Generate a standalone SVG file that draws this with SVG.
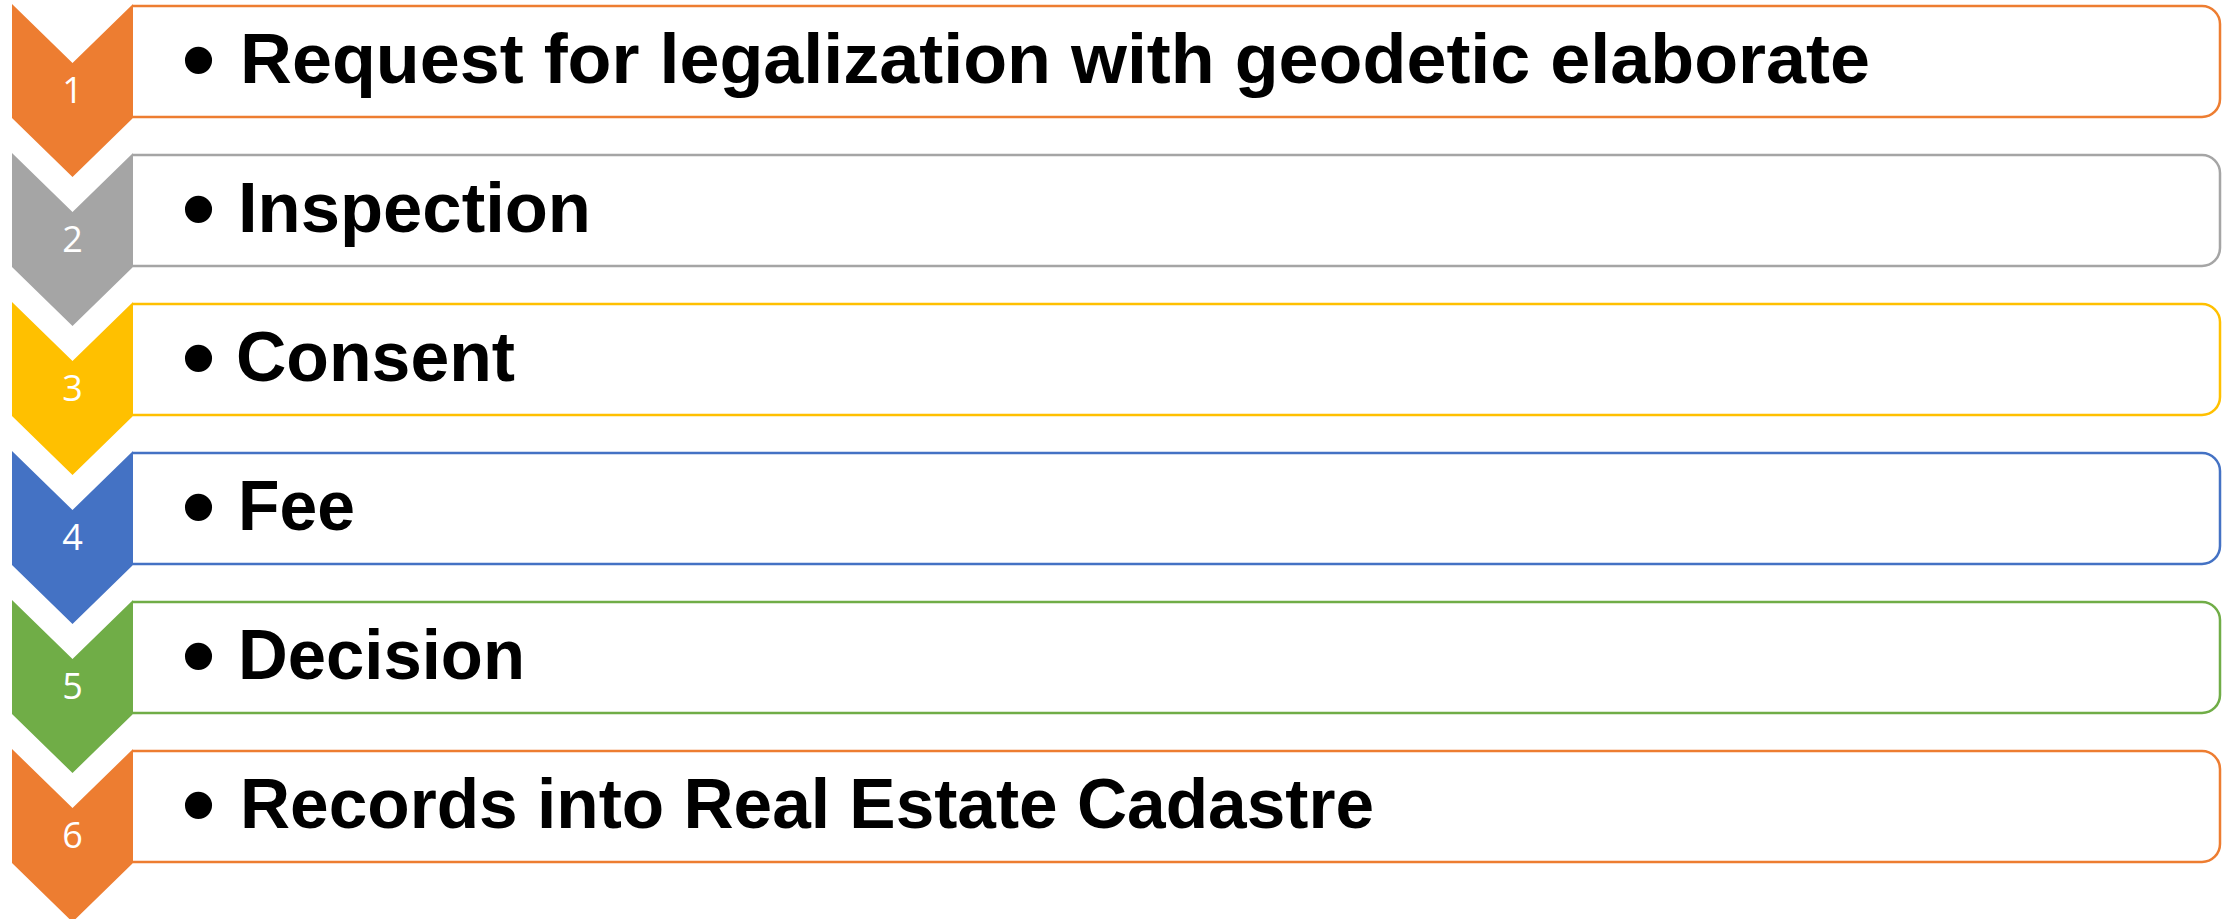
<svg xmlns="http://www.w3.org/2000/svg" width="2226" height="919" viewBox="0 0 2226 919">
<style>
.box{fill:#fff;stroke-width:2.5}
.num{font-family:"Open Sans","Liberation Sans",sans-serif;font-size:36px;fill:#fff;text-anchor:middle}
.lbl{font-family:"Liberation Sans",Arial,sans-serif;font-weight:bold;font-size:71px;fill:#000}
.bul{font-family:"Liberation Sans",Arial,sans-serif;font-size:100px;fill:#000;text-anchor:middle}
</style>
<defs>
<path id="chev" d="M12,0 L72.5,59 L133,0 L133,114 L72.5,173 L12,114 Z"/>
<path id="frame" d="M133,2 H2202 A18,18 0 0 1 2220,20 V95 A18,18 0 0 1 2202,113 H133"/>
</defs>
<rect width="2226" height="919" fill="#fff"/>
<g id="node1" transform="translate(0,4)">
<use href="#frame" class="box" stroke="#ED7D31"/>
<use href="#chev" fill="#ED7D31"/>
<text class="num" x="72.5" y="99">1</text>
<text class="bul" x="198.5" y="89.5">•</text>
<text class="lbl" x="240" y="79" textLength="1630" lengthAdjust="spacingAndGlyphs">Request for legalization with geodetic elaborate</text>
</g>
<g id="node2" transform="translate(0,153)">
<use href="#frame" class="box" stroke="#A5A5A5"/>
<use href="#chev" fill="#A5A5A5"/>
<text class="num" x="72.5" y="99">2</text>
<text class="bul" x="198.5" y="89.5">•</text>
<text class="lbl" x="238" y="79" textLength="353" lengthAdjust="spacingAndGlyphs">Inspection</text>
</g>
<g id="node3" transform="translate(0,302)">
<use href="#frame" class="box" stroke="#FFC000"/>
<use href="#chev" fill="#FFC000"/>
<text class="num" x="72.5" y="99">3</text>
<text class="bul" x="198.5" y="89.5">•</text>
<text class="lbl" x="236" y="79" textLength="279" lengthAdjust="spacingAndGlyphs">Consent</text>
</g>
<g id="node4" transform="translate(0,451)">
<use href="#frame" class="box" stroke="#4472C4"/>
<use href="#chev" fill="#4472C4"/>
<text class="num" x="72.5" y="99">4</text>
<text class="bul" x="198.5" y="89.5">•</text>
<text class="lbl" x="238" y="79" textLength="117" lengthAdjust="spacingAndGlyphs">Fee</text>
</g>
<g id="node5" transform="translate(0,600)">
<use href="#frame" class="box" stroke="#70AD47"/>
<use href="#chev" fill="#70AD47"/>
<text class="num" x="72.5" y="99">5</text>
<text class="bul" x="198.5" y="89.5">•</text>
<text class="lbl" x="238" y="79" textLength="287" lengthAdjust="spacingAndGlyphs">Decision</text>
</g>
<g id="node6" transform="translate(0,749)">
<use href="#frame" class="box" stroke="#ED7D31"/>
<use href="#chev" fill="#ED7D31"/>
<text class="num" x="72.5" y="99">6</text>
<text class="bul" x="198.5" y="89.5">•</text>
<text class="lbl" x="240" y="79" textLength="1134" lengthAdjust="spacingAndGlyphs">Records into Real Estate Cadastre</text>
</g>
<g id="connectors"></g>
</svg>
